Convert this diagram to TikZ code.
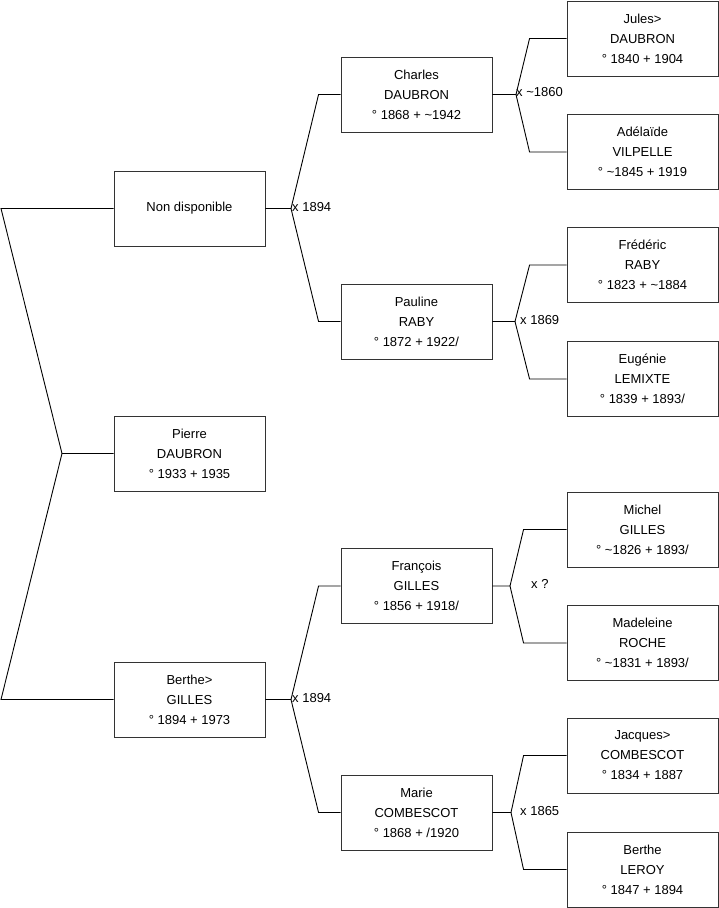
\documentclass[tikz,border=0pt]{standalone}
\usepackage{fontspec}
\setmainfont{Liberation Sans}
\usetikzlibrary{calc}

\tikzset{
  person/.style={draw=black!80, line width=0.9pt, minimum width=151pt, minimum height=75pt,
    inner sep=0pt, align=center, font=\fontsize{13}{20}\selectfont},
  mariage/.style={inner sep=0pt, anchor=west, font=\fontsize{13}{16}\selectfont},
  lien/.style={line width=0.9pt}
}

\begin{document}
\begin{tikzpicture}[x=1pt,y=-1pt]
\useasboundingbox (0,0) rectangle (719,908);
\def\d{\textasciitilde}
% generation 1
\node[person] (nd) at (189.5, 208.5) {Non disponible};
\node[person] (pierre) at (189.5, 453.5) {Pierre\\DAUBRON\\° 1933 + 1935};
\node[person] (berthe) at (189.5, 699.5) {Berthe>\\GILLES\\° 1894 + 1973};
% generation 2
\node[person] (charles) at (416.5, 94.5) {Charles\\DAUBRON\\° 1868 + \d1942};
\node[person] (pauline) at (416.5, 321.5) {Pauline\\RABY\\° 1872 + 1922/};
\node[person] (francois) at (416.5, 586) {François\\GILLES\\° 1856 + 1918/};
\node[person] (marie) at (416.5, 812.5) {Marie\\COMBESCOT\\° 1868 + /1920};
% generation 3
\node[person] (jules) at (642.5, 38.5) {Jules>\\DAUBRON\\° 1840 + 1904};
\node[person] (adelaide) at (642.5, 152) {Adélaïde\\VILPELLE\\° \d1845 + 1919};
\node[person] (frederic) at (642.5, 265) {Frédéric\\RABY\\° 1823 + \d1884};
\node[person] (eugenie) at (642.5, 379) {Eugénie\\LEMIXTE\\° 1839 + 1893/};
\node[person] (michel) at (642.5, 529.5) {Michel\\GILLES\\° \d1826 + 1893/};
\node[person] (madeleine) at (642.5, 643) {Madeleine\\ROCHE\\° \d1831 + 1893/};
\node[person] (jacques) at (642.5, 755.5) {Jacques>\\COMBESCOT\\° 1834 + 1887};
\node[person] (leroy) at (642.5, 869.5) {Berthe\\LEROY\\° 1847 + 1894};

% racine
\coordinate (j0) at (62, 453.5);
\coordinate (r1) at (1, 208.5);
\coordinate (r2) at (1, 699.5);
\draw[lien] (nd.west) -- (r1) -- (j0) -- (pierre.west);
\draw[lien] (j0) -- (r2) -- (berthe.west);

% couples
\coordinate (j1) at (291, 208.5);
\coordinate (j2) at (291, 699.5);
\coordinate (j3) at (516, 94.5);
\coordinate (j4) at (515, 321.5);
\coordinate (j5) at (510, 586);
\coordinate (j6) at (511, 812.5);

\draw[lien] (nd.east) -- (j1) -- ($(charles.west)+(-22,0)$) -- (charles.west);
\draw[lien] (j1) -- ($(pauline.west)+(-22,0)$) -- (pauline.west);
\draw[lien] (berthe.east) -- (j2) -- ($(francois.west)+(-22,0)$) -- (francois.west);
\draw[lien] (j2) -- ($(marie.west)+(-22,0)$) -- (marie.west);

\draw[lien] (charles.east) -- (j3) -- ($(jules.west)+(-37,0)$) -- (jules.west);
\draw[lien] (j3) -- ($(adelaide.west)+(-37,0)$) -- (adelaide.west);
\draw[lien] (pauline.east) -- (j4) -- ($(frederic.west)+(-37,0)$) -- (frederic.west);
\draw[lien] (j4) -- ($(eugenie.west)+(-37,0)$) -- (eugenie.west);
\draw[lien] (francois.east) -- (j5) -- ($(michel.west)+(-43,0)$) -- (michel.west);
\draw[lien] (j5) -- ($(madeleine.west)+(-43,0)$) -- (madeleine.west);
\draw[lien] (marie.east) -- (j6) -- ($(jacques.west)+(-43,0)$) -- (jacques.west);
\draw[lien] (j6) -- ($(leroy.west)+(-43,0)$) -- (leroy.west);

\node[mariage] (m1) at ($(j1)+(1,-1)$) {x 1894};
\node[mariage] (m2) at ($(j2)+(1,-1)$) {x 1894};
\node[mariage] (m3) at ($(j3)+(0,-2)$) {x \d1860};
\node[mariage] (m4) at ($(j4)+(5,-1)$) {x 1869};
\node[mariage] (m5) at ($(j5)+(21,-2)$) {x ?};
\node[mariage] (m6) at ($(j6)+(9,-1)$) {x 1865};
\end{tikzpicture}
\end{document}
